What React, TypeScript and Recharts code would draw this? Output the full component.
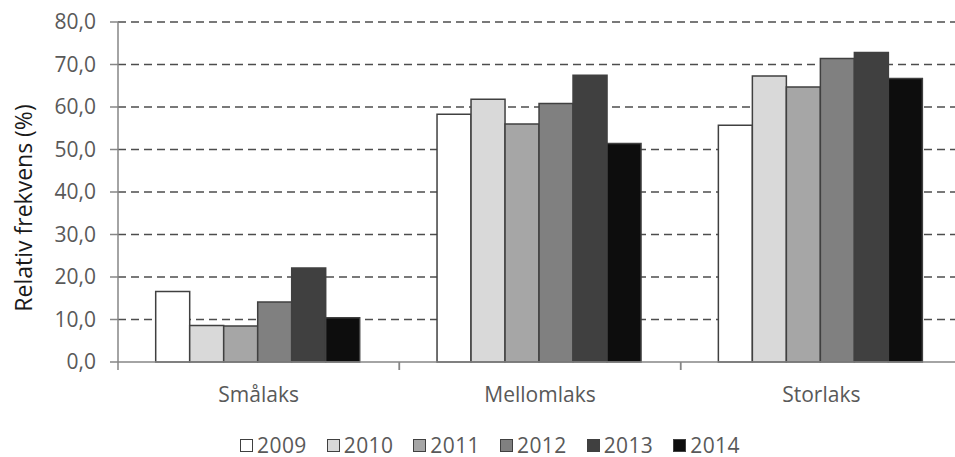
import React from 'react';
import {
  BarChart,
  Bar,
  XAxis,
  YAxis,
  CartesianGrid,
  Legend,
} from 'recharts';

// Size classes (categories) and the years shown as series
const categories = ['Smålaks', 'Mellomlaks', 'Storlaks'];
const years = ['2009', '2010', '2011', '2012', '2013', '2014'];

// Relative frequency (%) per year, in category order
const v2009 = [16.6, 58.3, 55.7];
const v2010 = [8.6, 61.8, 67.3];
const v2011 = [8.5, 56.0, 64.7];
const v2012 = [14.1, 60.8, 71.4];
const v2013 = [22.1, 67.5, 72.8];
const v2014 = [10.4, 51.4, 66.7];

const yTicks = [0, 10, 20, 30, 40, 50, 60, 70, 80];

const seriesValues = [v2009, v2010, v2011, v2012, v2013, v2014];
const fills = ['#ffffff', '#d9d9d9', '#a6a6a6', '#808080', '#404040', '#0d0d0d'];

const data = categories.map((name, i) => {
  const row: Record<string, string | number> = { name };
  years.forEach((y, j) => {
    row[y] = seriesValues[j][i];
  });
  return row;
});

const FONT = '"Open Sans", sans-serif';
const AXIS_GRAY = '#868686';
const TEXT_GRAY = '#595959';
const CAT_MARGIN = 25;

// category label plus the Excel-style tick marks between categories
const CategoryTick = (props: any) => {
  const { x, y, payload } = props;
  const half = payload && payload.offset ? payload.offset : 844 / 6;
  const axisY = y - CAT_MARGIN;
  return (
    <g>
      <line x1={x - half} y1={axisY} x2={x - half} y2={axisY + 8} stroke={AXIS_GRAY} strokeWidth={1.5} />
      <line x1={x + half} y1={axisY} x2={x + half} y2={axisY + 8} stroke={AXIS_GRAY} strokeWidth={1.5} />
      <text
        x={x}
        y={y}
        dy="0.71em"
        textAnchor="middle"
        fill={TEXT_GRAY}
        fontFamily={FONT}
        fontSize={21}
      >
        {payload.value}
      </text>
    </g>
  );
};

const LegendContent = (props: any) => {
  const payload = props.payload || [];
  return (
    <div
      style={{
        height: 40,
        boxSizing: 'border-box',
        paddingTop: 17,
        paddingLeft: 18,
        display: 'flex',
        justifyContent: 'center',
        alignItems: 'flex-start',
        fontFamily: FONT,
        fontSize: 21,
        lineHeight: '22px',
        color: TEXT_GRAY,
      }}
    >
      {payload.map((entry: any, i: number) => (
        <div
          key={entry.value}
          style={{
            display: 'flex',
            alignItems: 'center',
            height: 22,
            marginRight: i < payload.length - 1 ? 20 : 0,
          }}
        >
          <span
            style={{
              display: 'inline-block',
              width: 13,
              height: 13,
              boxSizing: 'border-box',
              border: '1.5px solid #404040',
              background: entry.color,
              marginRight: 4,
            }}
          />
          <span style={{ letterSpacing: 0.4 }}>{entry.value}</span>
        </div>
      ))}
    </div>
  );
};

const YLabel = () => (
  <text
    x={23}
    y={208}
    transform="rotate(-90 23 208)"
    textAnchor="middle"
    dominantBaseline="central"
    fontFamily={FONT}
    fontSize={23}
    fill="#1a1a1a"
  >
    Relativ frekvens (%)
  </text>
);

export default function App() {
  return (
    <div
      style={{
        position: 'absolute',
        left: 0,
        top: 0,
        width: 955,
        height: 457,
        overflow: 'hidden',
        background: '#ffffff',
      }}
    >
      <BarChart
        width={980}
        height={457}
        data={data}
        margin={{ top: 22, right: 18, left: 0, bottom: 0 }}
        barCategoryGap="13.4%"
        barGap={0}
      >
        <CartesianGrid
          vertical={false}
          stroke="#4d4d4d"
          strokeWidth={1.5}
          strokeDasharray="8 5"
          horizontalValues={yTicks.filter((t) => t > 0)}
        />
        <XAxis
          dataKey="name"
          height={55}
          tickLine={false}
          tickSize={0}
          tickMargin={CAT_MARGIN}
          axisLine={{ stroke: AXIS_GRAY, strokeWidth: 1.5 }}
          tick={<CategoryTick />}
        />
        <YAxis
          width={118}
          domain={[0, 80]}
          ticks={yTicks}
          interval={0}
          tickSize={8}
          tickMargin={14}
          tickFormatter={(v: number) => v.toFixed(1).replace('.', ',')}
          axisLine={{ stroke: AXIS_GRAY, strokeWidth: 1.5 }}
          tickLine={{ stroke: AXIS_GRAY, strokeWidth: 1.5 }}
          tick={{ fill: TEXT_GRAY, fontFamily: FONT, fontSize: 21 }}
          label={<YLabel />}
        />
        <Legend
          verticalAlign="bottom"
          height={40}
          content={<LegendContent />}
        />
        {years.map((y, j) => (
          <Bar
            key={y}
            dataKey={y}
            fill={fills[j]}
            stroke="#404040"
            strokeWidth={1.5}
            isAnimationActive={false}
          />
        ))}
      </BarChart>
    </div>
  );
}
